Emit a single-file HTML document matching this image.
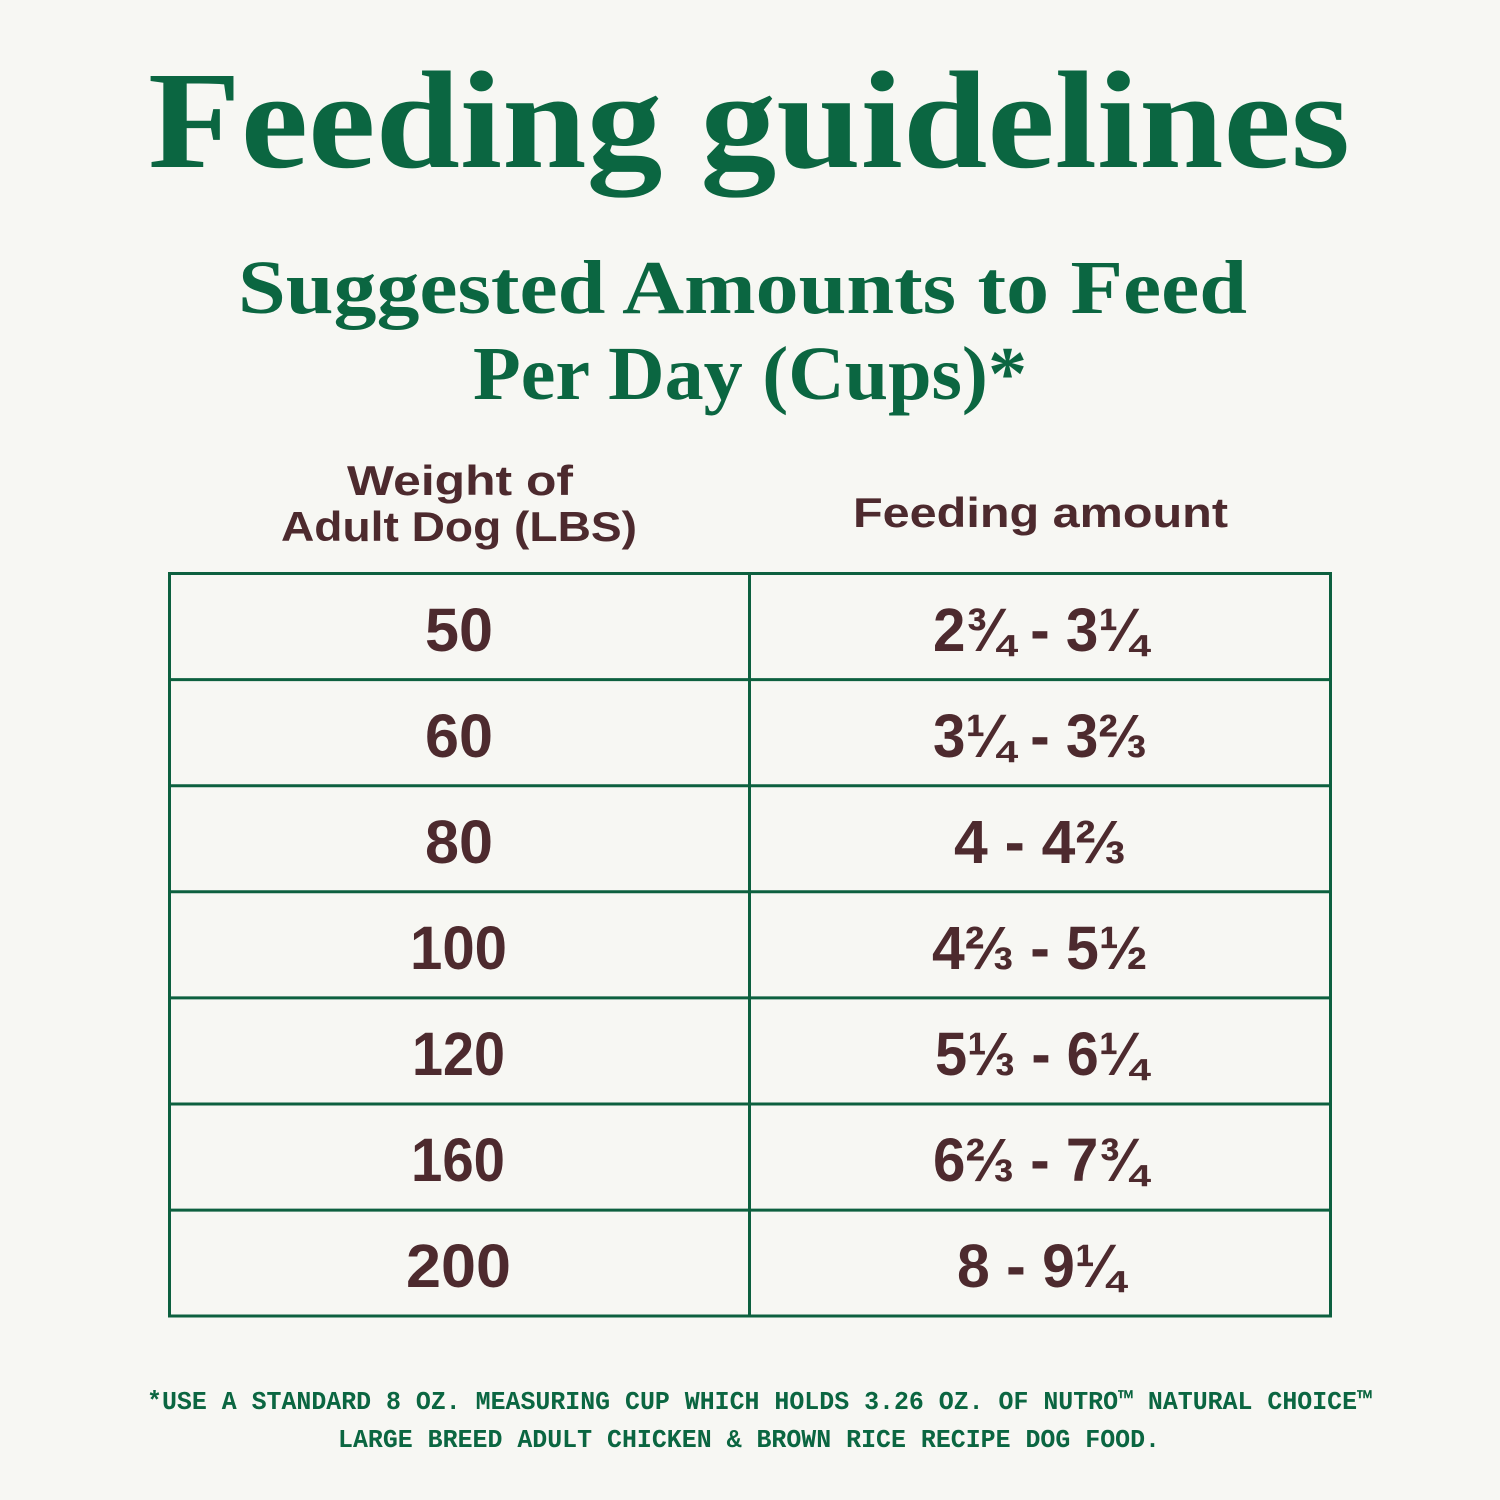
<!DOCTYPE html>
<html>
<head>
<meta charset="utf-8">
<style>
  html, body { margin: 0; padding: 0; background: #f7f7f3; }
  svg { display: block; }
</style>
</head>
<body>
<svg width="1500" height="1500" viewBox="0 0 1500 1500" xmlns="http://www.w3.org/2000/svg">
  <rect x="0" y="0" width="1500" height="1500" fill="#f7f7f3"/>

  <!-- Title -->
  <text x="148" y="167" font-family="Liberation Serif, serif" font-weight="bold" font-size="139" fill="#0b6641" textLength="1202" lengthAdjust="spacingAndGlyphs">Feeding guidelines</text>

  <!-- Subtitle -->
  <text x="238" y="313" font-family="Liberation Serif, serif" font-weight="bold" font-size="76" fill="#0b6641" textLength="1009" lengthAdjust="spacingAndGlyphs">Suggested Amounts to Feed</text>
  <text x="473" y="399" font-family="Liberation Serif, serif" font-weight="bold" font-size="76" fill="#0b6641" textLength="554" lengthAdjust="spacingAndGlyphs">Per Day (Cups)*</text>

  <!-- Column headers -->
  <g font-family="Liberation Sans, sans-serif" font-weight="bold" font-size="42" fill="#4d2a2e">
    <text x="347" y="495" textLength="226" lengthAdjust="spacingAndGlyphs">Weight of</text>
    <text x="281" y="541" textLength="356" lengthAdjust="spacingAndGlyphs">Adult Dog (LBS)</text>
    <text x="853" y="527" textLength="375" lengthAdjust="spacingAndGlyphs">Feeding amount</text>
  </g>

  <!-- Table -->
  <g stroke="#0d603f" stroke-width="3" fill="none">
    <rect x="169.5" y="573.5" width="1161" height="742.5"/>
    <line x1="749.5" y1="573.5" x2="749.5" y2="1316"/>
    <line x1="169.5" y1="679.6" x2="1330.5" y2="679.6"/>
    <line x1="169.5" y1="785.7" x2="1330.5" y2="785.7"/>
    <line x1="169.5" y1="891.8" x2="1330.5" y2="891.8"/>
    <line x1="169.5" y1="997.9" x2="1330.5" y2="997.9"/>
    <line x1="169.5" y1="1104" x2="1330.5" y2="1104"/>
    <line x1="169.5" y1="1210.1" x2="1330.5" y2="1210.1"/>
  </g>

  <!-- Left column values -->
  <g font-family="Liberation Sans, sans-serif" font-weight="bold" font-size="61" fill="#4d2a2e">
    <text x="425" y="651" textLength="68" lengthAdjust="spacingAndGlyphs">50</text>
    <text x="425" y="757" textLength="68" lengthAdjust="spacingAndGlyphs">60</text>
    <text x="425" y="863" textLength="68" lengthAdjust="spacingAndGlyphs">80</text>
    <text x="410" y="969" textLength="97" lengthAdjust="spacingAndGlyphs">100</text>
    <text x="412" y="1075" textLength="93" lengthAdjust="spacingAndGlyphs">120</text>
    <text x="411" y="1181" textLength="94" lengthAdjust="spacingAndGlyphs">160</text>
    <text x="406" y="1287" textLength="105" lengthAdjust="spacingAndGlyphs">200</text>
  </g>

  <!-- Right column values -->
  <g font-family="Liberation Sans, DejaVu Sans, sans-serif" font-weight="bold" font-size="61" fill="#4d2a2e">
    <text x="933" y="651" textLength="214" lengthAdjust="spacingAndGlyphs">2¾ - 3¼</text>
    <text x="933" y="757" textLength="214" lengthAdjust="spacingAndGlyphs">3¼ - 3⅔</text>
    <text x="954" y="863" textLength="172" lengthAdjust="spacingAndGlyphs">4 - 4⅔</text>
    <text x="932" y="969" textLength="216" lengthAdjust="spacingAndGlyphs">4⅔ - 5½</text>
    <text x="935" y="1075" textLength="212" lengthAdjust="spacingAndGlyphs">5⅓ - 6¼</text>
    <text x="933" y="1181" textLength="214" lengthAdjust="spacingAndGlyphs">6⅔ - 7¾</text>
    <text x="957" y="1287" textLength="167" lengthAdjust="spacingAndGlyphs">8 - 9¼</text>
  </g>

  <!-- Footnote -->
  <g font-family="Liberation Mono, monospace" font-weight="bold" font-size="26" fill="#0b6641">
    <text x="147" y="1409" textLength="1225" lengthAdjust="spacingAndGlyphs">*USE A STANDARD 8 OZ. MEASURING CUP WHICH HOLDS 3.26 OZ. OF NUTRO™ NATURAL CHOICE™</text>
    <text x="338" y="1447" textLength="822" lengthAdjust="spacingAndGlyphs">LARGE BREED ADULT CHICKEN &amp; BROWN RICE RECIPE DOG FOOD.</text>
  </g>
</svg>
</body>
</html>
